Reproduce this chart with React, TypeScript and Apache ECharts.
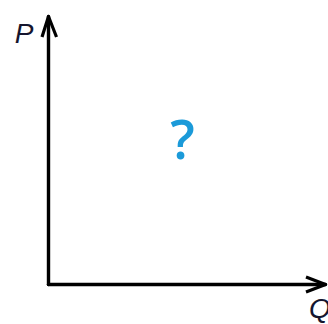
import React, { useEffect, useRef } from "react";
import * as echarts from "echarts";

const xAxisName = "Q";
const yAxisName = "P";
const centerLabel = "?";
const xRange = [0, 1];
const yRange = [0, 1];

export default function App() {
  const ref = useRef<HTMLDivElement>(null);
  useEffect(() => {
    if (!ref.current) return;
    const chart = echarts.init(ref.current, null, { renderer: "svg" });
    const axisCommon = {
      type: "value" as const,
      axisLine: { show: true, onZero: false, lineStyle: { color: "#000", width: 3.4 } },
      axisTick: { show: false },
      axisLabel: { show: false },
      splitLine: { show: false },
    };
    chart.setOption({
      animation: false,
      backgroundColor: "#ffffff",
      grid: { left: 48.5, right: 2.5, top: 16.5, bottom: 39.5, containLabel: false },
      xAxis: { ...axisCommon, min: xRange[0], max: xRange[1] },
      yAxis: { ...axisCommon, min: yRange[0], max: yRange[1] },
      graphic: [
        {
          type: "polyline",
          shape: { points: [[42, 37], [48.5, 16.5], [56.5, 37]] },
          style: { stroke: "#000", lineWidth: 3.2, fill: "none", lineJoin: "round", lineCap: "butt" },
        },
        {
          type: "polyline",
          shape: { points: [[306, 277], [325.5, 284.5], [306, 292]] },
          style: { stroke: "#000", lineWidth: 3.2, fill: "none", lineJoin: "round", lineCap: "butt" },
        },
        {
          type: "text",
          x: 24,
          y: 33,
          style: {
            text: yAxisName,
            fill: "#15152e",
            font: "italic 28px 'Liberation Sans', Arial, sans-serif",
            textAlign: "center",
            textVerticalAlign: "middle",
          },
        },
        {
          type: "text",
          x: 320,
          y: 308,
          z: 10,
          style: {
            text: xAxisName,
            fill: "#15152e",
            font: "italic 28px 'Liberation Sans', Arial, sans-serif",
            textAlign: "center",
            textVerticalAlign: "middle",
          },
        },
        {
          type: "text",
          x: 182.5,
          y: 137.5,
          style: {
            text: centerLabel,
            fill: "#1b9ad9",
            font: "600 54px 'Open Sans', 'Noto Sans', sans-serif",
            textAlign: "center",
            textVerticalAlign: "middle",
          },
        },
      ],
    });
    return () => chart.dispose();
  }, []);
  return (
    <div
      ref={ref}
      style={{ position: "fixed", left: 0, top: 0, width: 328, height: 324 }}
    />
  );
}
